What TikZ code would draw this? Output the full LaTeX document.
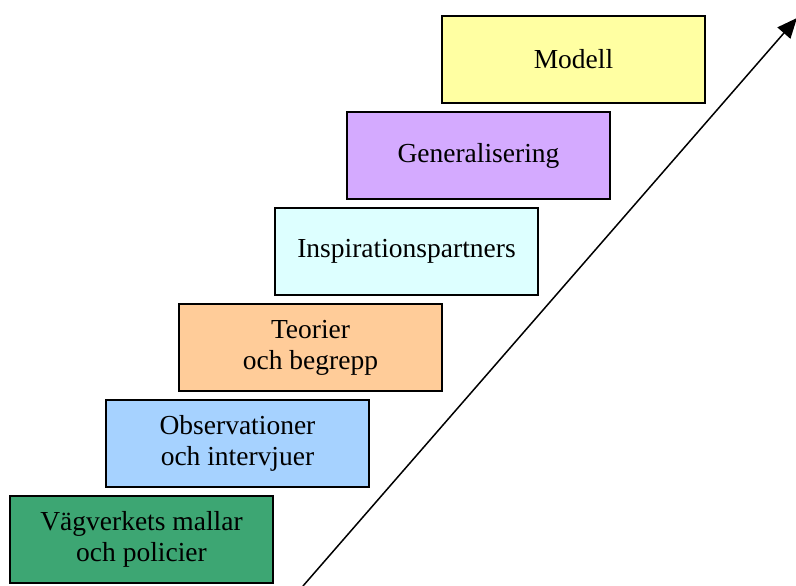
\documentclass[tikz,border=0pt]{standalone}
\usepackage{fontspec}
\setmainfont{Liberation Serif}
\usepackage{xcolor}
\usetikzlibrary{arrows.meta}

\definecolor{stepgreen}{RGB}{61,166,115}
\definecolor{stepblue}{RGB}{166,210,255}
\definecolor{steppeach}{RGB}{255,204,153}
\definecolor{stepcyan}{RGB}{221,255,255}
\definecolor{steplilac}{RGB}{212,170,255}
\definecolor{stepyellow}{RGB}{255,255,162}

\tikzset{
  stepbox/.style={draw=black, line width=2pt, minimum width=263pt, minimum height=87pt,
    align=center, inner sep=0pt, font=\fontsize{27.5}{31}\selectfont}
}

\begin{document}
\begin{tikzpicture}[x=1pt, y=1pt]
        \useasboundingbox (0,0) rectangle (796,586);

        \node[stepbox, fill=stepgreen] (vv) at (141.5,46.5) {Vägverkets mallar\\och policier};
        \node[stepbox, fill=stepblue] (obs) at (237.5,142.5) {Observationer\\och intervjuer};
        \node[stepbox, fill=steppeach] (teo) at (310.5,238.5) {Teorier\\och begrepp};
        \node[stepbox, fill=stepcyan] (insp) at (406.5,334.5) {Inspirationspartners};
        \node[stepbox, fill=steplilac] (gen) at (478.5,430.5) {Generalisering};
        \node[stepbox, fill=stepyellow] (mod) at (573.5,526.5) {Modell};

        % stairs arrow
        \coordinate (start) at (303,0);
        \coordinate (tip) at (797,568);
        \draw[line width=1.5pt, -{Triangle[length=20pt, width=17pt]}] (start) -- (tip);
    \end{tikzpicture}
\end{document}
